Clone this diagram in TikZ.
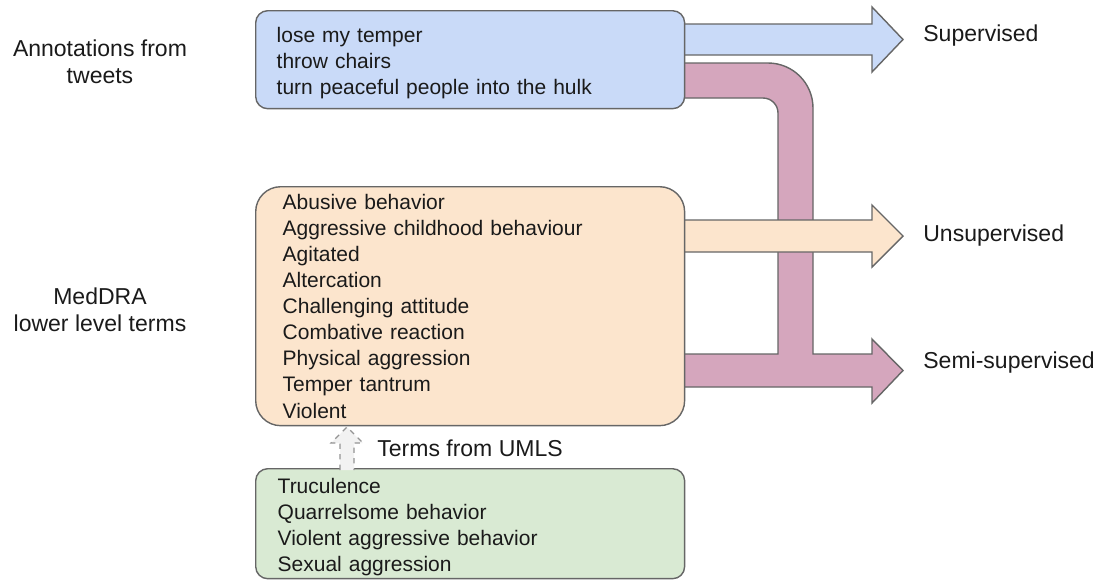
\documentclass[tikz,border=0pt]{standalone}
\usepackage{fontspec}
\setmainfont{Liberation Sans}
\usepackage{xcolor}
\usetikzlibrary{positioning}

\definecolor{tweetblue}{HTML}{C9DAF8}
\definecolor{meddraorange}{HTML}{FCE5CD}
\definecolor{umlsgreen}{HTML}{D9EAD3}
\definecolor{semipink}{HTML}{D5A6BD}
\definecolor{edgegray}{HTML}{666666}
\definecolor{textdark}{HTML}{1A1A1A}
% extra room above the first line
\newcommand{\toppad}{\rule{0pt}{12.4pt}}

\begin{document}
\begin{tikzpicture}[x=0.02cm, y=-0.02cm,
			every node/.style={text=textdark},
			termbox/.style={draw=edgegray, line width=0.8pt, rounded corners=0.24cm,
				anchor=north west, align=left, inner ysep=0pt,
				font=\fontsize{11.95}{14.85}\selectfont},
			flowarrow/.style={draw=edgegray, line width=0.8pt, line join=miter},
			sidelabel/.style={align=center, inner sep=0pt, font=\fontsize{13.1}{15.3}\selectfont},
			outlabel/.style={anchor=west, inner sep=0pt, font=\fontsize{13.1}{15.3}\selectfont}]
		\useasboundingbox (0,0) rectangle (1102,579);
		% pink bent arrow: tweets + MedDRA -> semi-supervised
		\draw[flowarrow, fill=semipink] (670,63) -- (740,63)
			{[rounded corners=0.9cm] -- (813,63) -- (813,150)} -- (813,354)
			-- (872,354) -- (872,339) -- (903,370.5) -- (872,403) -- (872,387)
			-- (670,387) -- (670,354) -- (778,354) -- (778,300)
			{[rounded corners=0.3cm] -- (778,98) -- (740,98)} -- (670,98) -- cycle;
		% straight arrows
		\draw[flowarrow, fill=tweetblue] (670,24) -- (872,24) -- (872,7) -- (903,39.5)
			-- (872,72) -- (872,55) -- (670,55) -- cycle;
		\draw[flowarrow, fill=meddraorange] (670,220) -- (872,220) -- (872,205) -- (903,236)
			-- (872,267) -- (872,252) -- (670,252) -- cycle;
		% boxes
		\node[termbox, fill=tweetblue, inner xsep=0.42cm, text width=7.74cm, minimum height=1.96cm,
			font=\fontsize{11.95}{15.0}\selectfont]
			(tweets) at (255,10) {\toppad lose my temper\\throw chairs\\turn peaceful people into the hulk};
		\node[termbox, fill=meddraorange, rounded corners=0.5cm, inner xsep=0.54cm, text width=7.5cm,
			minimum height=4.78cm] (meddra) at (255,186)
			{Abusive behavior\\Aggressive childhood behaviour\\Agitated\\Altercation\\Challenging attitude\\
			Combative reaction\\Physical aggression\\Temper tantrum\\Violent};
		\node[termbox, fill=umlsgreen, inner xsep=0.44cm, text width=7.7cm, minimum height=2.2cm]
			(umls) at (255,468) {\toppad Truculence\\Quarrelsome behavior\\Violent aggressive behavior\\Sexual aggression};
		% dashed arrow from UMLS terms
		\draw[dashed, draw=edgegray!70, fill=gray!10, line width=0.7pt]
			(340,470) -- (340,443) -- (331,443) -- (347,427) -- (363,443) -- (354,443) -- (354,470);
		\node[outlabel] (umlslabel) at (377,448) {Terms from UMLS};
		% side labels
		\node[sidelabel] (tweetlabel) at (100,61.5) {Annotations from\\tweets};
		\node[sidelabel] (meddralabel) at (100,309.5) {MedDRA\\lower level terms};
		\node[outlabel] (suplabel) at (923,36) {Supervised};
		\node[outlabel] (unsuplabel) at (923,236) {Unsupervised};
		\node[outlabel] (semilabel) at (923,363) {Semi-supervised};
\end{tikzpicture}
\end{document}
